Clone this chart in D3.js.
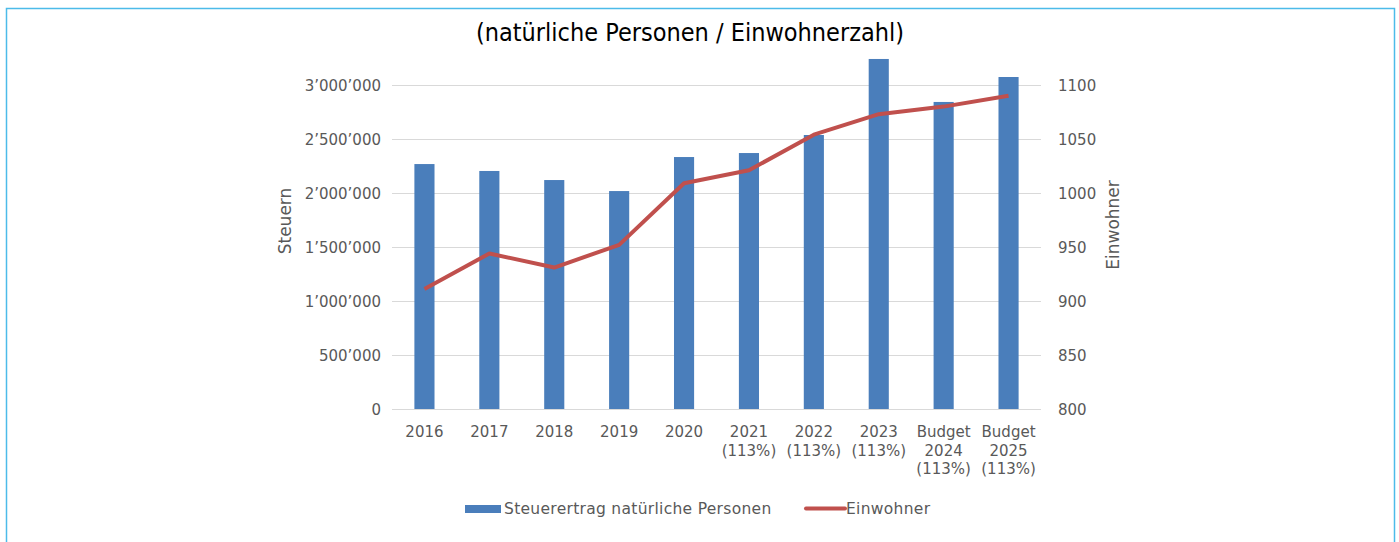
<!DOCTYPE html>
<html lang="de">
<head>
    <meta charset="UTF-8">
    <title>Steuerertrag natürliche Personen</title>
    <script src="https://d3js.org/d3.v7.min.js"></script>
    <style>
body { margin: 0; background: #fff; }
svg text { font-family: "DejaVu Sans", sans-serif; fill: #595959; }
.title { font-family: "Liberation Sans Narrow", "DejaVu Sans Condensed", sans-serif; fill: #000; }
.grid line { stroke: #d9d9d9; stroke-width: 1; }
.axisRemove path, .axisRemove line { display: none; }
    </style>
</head>
<body>
    <svg width="1399" height="542"></svg>
    <script>
        // Daten
        const categories = ["2016", "2017", "2018", "2019", "2020", "2021", "2022", "2023", "Budget 2024", "Budget 2025"];
        const catLabels = [["2016"], ["2017"], ["2018"], ["2019"], ["2020"],
                           ["2021", "(113%)"], ["2022", "(113%)"], ["2023", "(113%)"],
                           ["Budget", "2024", "(113%)"], ["Budget", "2025", "(113%)"]];
        const steuern = [2268000, 2204000, 2120000, 2018000, 2333000, 2370000, 2537000, 3241000, 2843000, 3074000];
        const einwohner = [911, 944, 931, 952, 1009, 1021, 1054, 1073, 1080, 1090];
        const leftTicks = [0, 500000, 1000000, 1500000, 2000000, 2500000, 3000000];
        const rightTicks = [800, 850, 900, 950, 1000, 1050, 1100];

        const svg = d3.select("svg");
        const margin = {top: 85, left: 392, right: 1041, bottom: 409};

        // Rahmen
        svg.append("path")
           .attr("d", "M6.5,542 V8.5 H1394.5 V542")
           .attr("fill", "none")
           .attr("stroke", "#4cbbe9")
           .attr("stroke-width", 1.5);

        svg.append("text")
           .attr("class", "title")
           .attr("x", 690).attr("y", 41)
           .attr("text-anchor", "middle")
           .style("font-size", "25px")
           .text("(natürliche Personen / Einwohnerzahl)");

        const x = d3.scaleBand().domain(categories).range([margin.left, margin.right]).paddingInner(0.69).paddingOuter(0.345);
        const xc = d3.scaleBand().domain(categories).range([margin.left, margin.right]);
        const yL = d3.scaleLinear().domain([0, 3000000]).range([margin.bottom, margin.top]);
        const yR = d3.scaleLinear().domain([800, 1100]).range([margin.bottom, margin.top]);

        const fmt = v => d3.format(",")(v).replace(/,/g, "’");

        // Gitter
        svg.append("g").attr("class", "grid")
           .selectAll("line").data(leftTicks).enter().append("line")
           .attr("x1", margin.left).attr("x2", margin.right)
           .attr("y1", d => Math.round(yL(d)) + 0.5).attr("y2", d => Math.round(yL(d)) + 0.5);

        // Achsen
        svg.append("g").attr("class", "axisRemove")
           .attr("transform", `translate(${margin.left - 8},0)`)
           .call(d3.axisLeft(yL).tickValues(leftTicks).tickFormat(fmt).tickSize(0))
           .selectAll("text").style("font-size", "15px").attr("dy", "0.35em");

        svg.append("g").attr("class", "axisRemove")
           .attr("transform", `translate(${margin.right + 14},0)`)
           .call(d3.axisRight(yR).tickValues(rightTicks).tickFormat(d3.format("d")).tickSize(0))
           .selectAll("text").style("font-size", "15px").attr("dy", "0.35em");

        // Balken
        svg.selectAll(".bar").data(steuern).enter().append("rect")
           .attr("class", "bar")
           .attr("x", (d, i) => x(categories[i]))
           .attr("width", x.bandwidth())
           .attr("y", d => yL(d))
           .attr("height", d => yL(0) - yL(d))
           .attr("fill", "#4a7ebb");

        // Linie
        const line = d3.line()
            .x((d, i) => xc(categories[i]) + xc.bandwidth() / 2)
            .y(d => yR(d));
        svg.append("path").datum(einwohner)
           .attr("d", line)
           .attr("fill", "none")
           .attr("stroke", "#c0504d")
           .attr("stroke-width", 4)
           .attr("stroke-linejoin", "round");

        // Kategorienbeschriftung
        const xl = svg.append("g").selectAll("text").data(catLabels).enter().append("text")
           .attr("text-anchor", "middle")
           .attr("x", (d, i) => xc(categories[i]) + xc.bandwidth() / 2)
           .attr("y", 437)
           .style("font-size", "15px");
        xl.selectAll("tspan").data(d => d).enter().append("tspan")
           .attr("x", function() { return d3.select(this.parentNode).attr("x"); })
           .attr("dy", (d, i) => i === 0 ? 0 : 18.5)
           .text(d => d);

        // Achsentitel
        svg.append("text")
           .attr("transform", "translate(291,221) rotate(-90)")
           .attr("text-anchor", "middle")
           .style("font-size", "17px")
           .text("Steuern");
        svg.append("text")
           .attr("transform", "translate(1119,225) rotate(-90)")
           .attr("text-anchor", "middle")
           .style("font-size", "17px")
           .text("Einwohner");

        // Legende
        svg.append("rect").attr("x", 465).attr("y", 505).attr("width", 36).attr("height", 8).attr("fill", "#4a7ebb");
        svg.append("text").attr("x", 504).attr("y", 514).style("font-size", "15.5px").style("letter-spacing", "0.3px")
           .text("Steuerertrag natürliche Personen");
        svg.append("line").attr("x1", 806).attr("x2", 845).attr("y1", 508.5).attr("y2", 508.5)
           .attr("stroke", "#c0504d").attr("stroke-width", 4).attr("stroke-linecap", "round");
        svg.append("text").attr("x", 846).attr("y", 514).style("font-size", "15.5px").style("letter-spacing", "0.3px")
           .text("Einwohner");
    </script>
</body>
</html>
